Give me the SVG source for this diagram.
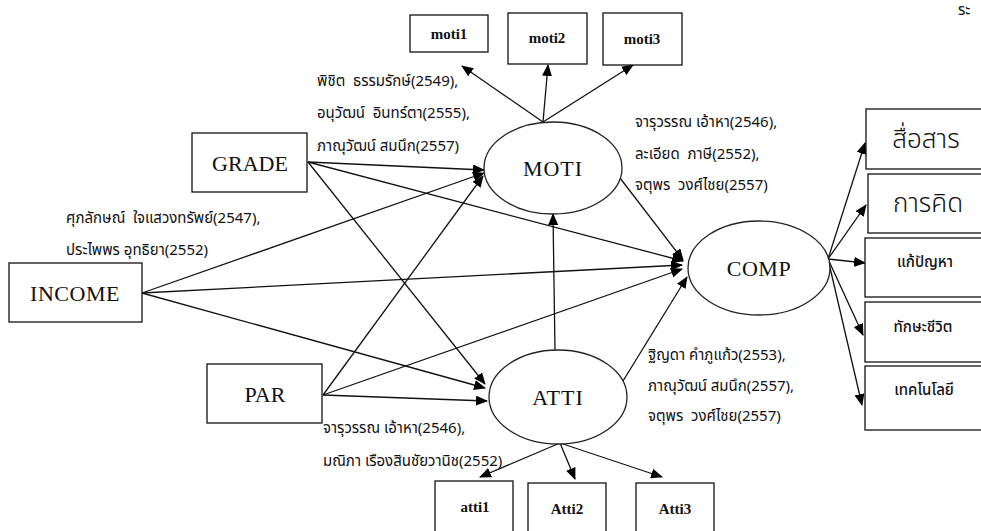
<svg xmlns="http://www.w3.org/2000/svg" width="981" height="531" viewBox="0 0 981 531">
  <style>
    .box { fill: #fff; stroke: #111; stroke-width: 1.3; }
    .ell { fill: #fff; stroke: #222; stroke-width: 1.3; }
    .edge { fill: none; stroke: #111; stroke-width: 1.3; marker-end: url(#arrow); }
    .lat { font-family: "Liberation Serif", "Times New Roman", serif; font-size: 22px; fill: #111; text-anchor: middle; dominant-baseline: central; }
    .ind { font-family: "Liberation Serif", "Times New Roman", serif; font-size: 15px; font-weight: bold; fill: #111; text-anchor: middle; dominant-baseline: central; }
    .th { font-family: "Noto Sans Thai", "Noto Serif Thai", "Loma", "Garuda", "Tlwg Typo", "DejaVu Sans", sans-serif; font-size: 15px; fill: #111; dominant-baseline: central; white-space: pre; }
    .thbig { font-family: "Noto Sans Thai", "Loma", "Garuda", "DejaVu Sans", sans-serif; font-size: 26px; font-weight: 300; fill: #111; text-anchor: middle; dominant-baseline: central; }
    .thmid { font-family: "Noto Sans Thai", "Loma", "Garuda", "DejaVu Sans", sans-serif; font-size: 15px; font-weight: 500; fill: #111; text-anchor: middle; dominant-baseline: central; }
  </style>
  <defs>
    <marker id="arrow" markerUnits="userSpaceOnUse" markerWidth="12" markerHeight="10" refX="11" refY="5" orient="auto">
      <path d="M0,0 L12,5 L0,10 Z" fill="#000"/>
    </marker>
  </defs>
  <rect width="981" height="531" fill="#fff"/>

  <!-- connectors -->
  <g id="connectors">
    <!-- MOTI indicators -->
    <line class="edge" x1="543" y1="122" x2="462" y2="66"/>
    <line class="edge" x1="543" y1="122" x2="548" y2="65"/>
    <line class="edge" x1="543" y1="122" x2="633" y2="65"/>
    <!-- GRADE -->
    <line class="edge" x1="308" y1="162" x2="484" y2="170"/>
    <line class="edge" x1="308" y1="162" x2="683" y2="261"/>
    <line class="edge" x1="308" y1="162" x2="485" y2="384"/>
    <!-- INCOME -->
    <line class="edge" x1="142" y1="293" x2="484" y2="173"/>
    <line class="edge" x1="142" y1="293" x2="682" y2="265"/>
    <line class="edge" x1="142" y1="293" x2="485" y2="388"/>
    <!-- PAR -->
    <line class="edge" x1="323" y1="395" x2="483" y2="176"/>
    <line class="edge" x1="323" y1="395" x2="682" y2="269"/>
    <line class="edge" x1="323" y1="395" x2="487" y2="401"/>
    <!-- latent paths -->
    <line class="edge" x1="555" y1="350" x2="553" y2="214"/>
    <line class="edge" x1="620" y1="178" x2="683" y2="260"/>
    <line class="edge" x1="623" y1="381" x2="687" y2="277"/>
    <!-- COMP indicators -->
    <line class="edge" x1="828" y1="259" x2="865" y2="143"/>
    <line class="edge" x1="828" y1="259" x2="866" y2="205"/>
    <line class="edge" x1="828" y1="259" x2="865" y2="263"/>
    <line class="edge" x1="828" y1="259" x2="863" y2="335"/>
    <line class="edge" x1="828" y1="259" x2="862" y2="405"/>
    <!-- ATTI indicators -->
    <line class="edge" x1="560" y1="443" x2="480" y2="477"/>
    <line class="edge" x1="560" y1="443" x2="575" y2="479"/>
    <line class="edge" x1="560" y1="443" x2="662" y2="477"/>
  </g>

  <!-- observed indicators of MOTI -->
  <g id="moti1"><rect class="box" x="410" y="15" width="78" height="37"/><text class="ind" x="449" y="34">moti1</text></g>
  <g id="moti2"><rect class="box" x="508" y="13" width="79" height="51"/><text class="ind" x="547" y="38">moti2</text></g>
  <g id="moti3"><rect class="box" x="603" y="13" width="79" height="52"/><text class="ind" x="642" y="39">moti3</text></g>

  <!-- exogenous variables -->
  <g id="grade"><rect class="box" x="192" y="133" width="115" height="59"/><text class="lat" x="250" y="163">GRADE</text></g>
  <g id="income"><rect class="box" x="9" y="263" width="133" height="59"/><text class="lat" x="75" y="293" letter-spacing="0.5">INCOME</text></g>
  <g id="par"><rect class="box" x="207" y="364" width="115" height="59"/><text class="lat" x="265" y="394">PAR</text></g>

  <!-- latent variables -->
  <g id="moti"><ellipse class="ell" cx="553" cy="168" rx="69" ry="46"/><text class="lat" x="553" y="168" letter-spacing="1">MOTI</text></g>
  <g id="atti"><ellipse class="ell" cx="558" cy="397" rx="69" ry="47"/><text class="lat" x="558" y="397" font-size="24" letter-spacing="1">ATTI</text></g>
  <g id="comp"><ellipse class="ell" cx="759" cy="268" rx="71" ry="47"/><text class="lat" x="759" y="268" font-size="20" letter-spacing="0.5">COMP</text></g>

  <!-- observed indicators of COMP -->
  <g id="comp1"><rect class="box" x="866" y="109" width="130" height="60"/><text class="thbig" x="926" y="140">สื่อสาร</text></g>
  <g id="comp2"><rect class="box" x="868" y="174" width="130" height="59"/><text class="thbig" x="928" y="204">การคิด</text></g>
  <g id="comp3"><rect class="box" x="865" y="238" width="130" height="59"/><text class="thmid" x="925" y="262">แก้ปัญหา</text></g>
  <g id="comp4"><rect class="box" x="865" y="302" width="130" height="60"/><text class="thmid" x="923" y="327">ทักษะชีวิต</text></g>
  <g id="comp5"><rect class="box" x="865" y="366" width="130" height="64"/><text class="thmid" x="924" y="390">เทคโนโลยี</text></g>

  <!-- observed indicators of ATTI -->
  <g id="atti1"><rect class="box" x="435" y="481" width="78" height="60"/><text class="ind" x="475" y="507">atti1</text></g>
  <g id="atti2"><rect class="box" x="528" y="483" width="78" height="60"/><text class="ind" x="567" y="509">Atti2</text></g>
  <g id="atti3"><rect class="box" x="636" y="483" width="78" height="60"/><text class="ind" x="675" y="509">Atti3</text></g>

  <!-- path citations -->
  <g id="notes">
    <text class="th" x="317" y="81">พิชิต  ธรรมรักษ์(2549),</text>
    <text class="th" x="317" y="113">อนุวัฒน์  อินทร์ตา(2555),</text>
    <text class="th" x="317" y="146">ภาณุวัฒน์ สมนึก(2557)</text>

    <text class="th" x="635" y="122">จารุวรรณ เอ้าหา(2546),</text>
    <text class="th" x="635" y="154">ละเอียด  ภาษี(2552),</text>
    <text class="th" x="635" y="185">จตุพร  วงศ์ไชย(2557)</text>

    <text class="th" x="66" y="218">ศุภลักษณ์  ใจแสวงทรัพย์(2547),</text>
    <text class="th" x="66" y="250">ประไพพร อุทธิยา(2552)</text>

    <text class="th" x="648" y="355">ฐิญดา คำภูแก้ว(2553),</text>
    <text class="th" x="648" y="386">ภาณุวัฒน์ สมนึก(2557),</text>
    <text class="th" x="648" y="416">จตุพร  วงศ์ไชย(2557)</text>

    <text class="th" x="323" y="428">จารุวรรณ เอ้าหา(2546),</text>
    <text class="th" x="323" y="461">มณิภา เรืองสินชัยวานิช(2552)</text>

    <text class="th" x="958" y="10">ระ</text>
  </g>
</svg>
